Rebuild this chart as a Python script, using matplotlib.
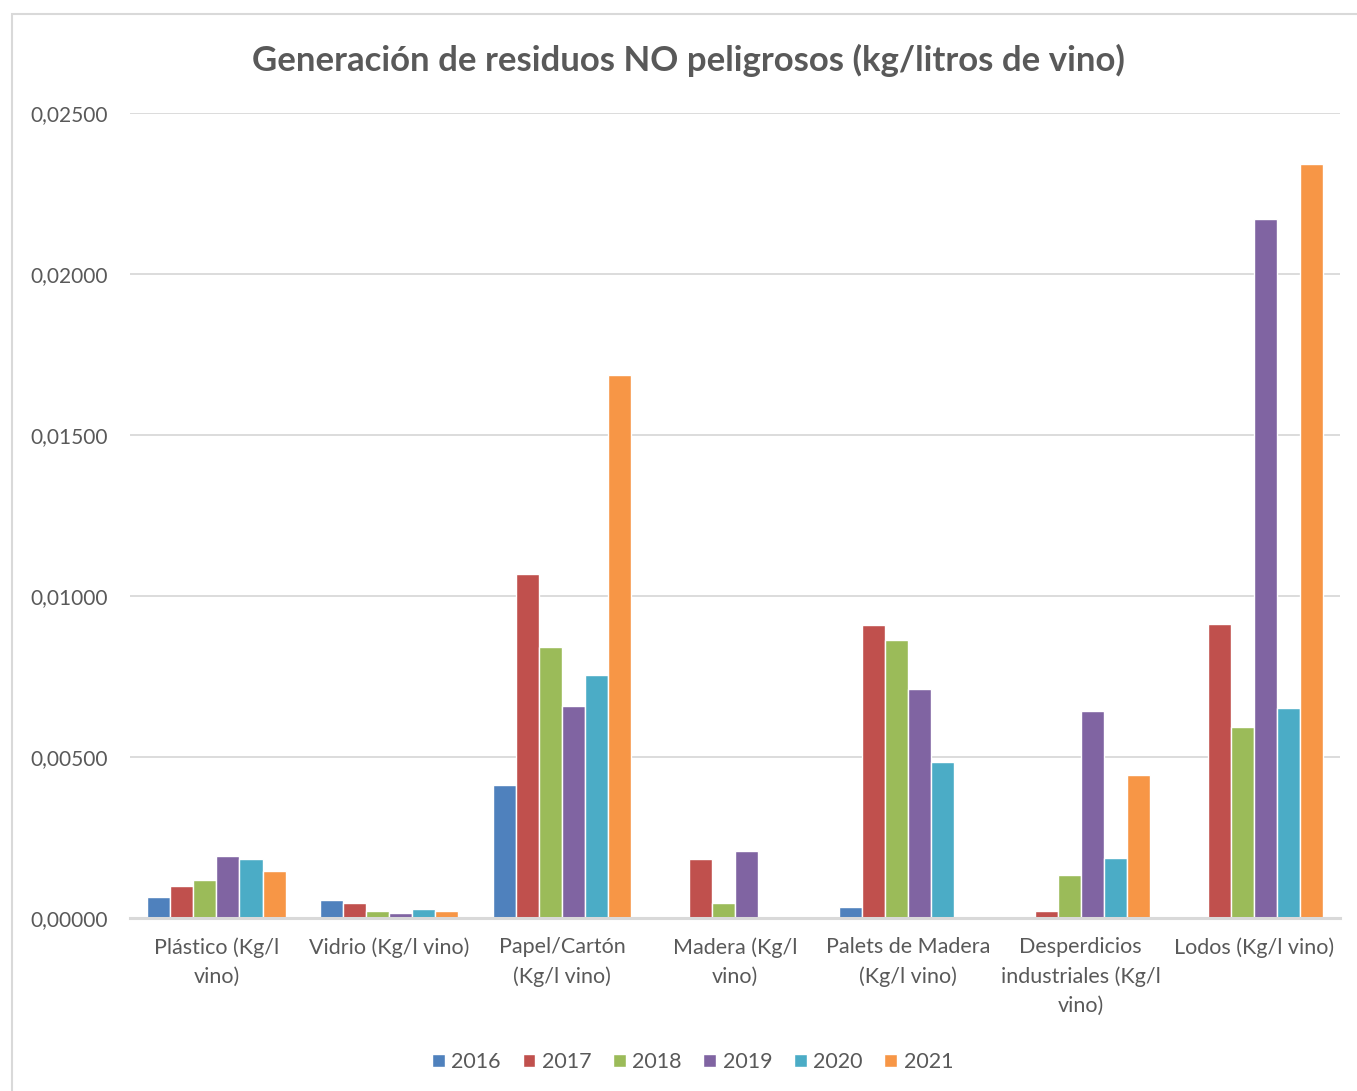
import numpy as np
import matplotlib
matplotlib.use("Agg")
import matplotlib.pyplot as plt
from matplotlib.patches import Rectangle
from matplotlib.ticker import FuncFormatter

categories = ["Plástico (Kg/l\nvino)", "Vidrio (Kg/l vino)", "Papel/Cartón\n(Kg/l vino)",
              "Madera (Kg/l\nvino)", "Palets de Madera\n(Kg/l vino)",
              "Desperdicios\nindustriales (Kg/l\nvino)", "Lodos (Kg/l vino)"]
years = ["2016", "2017", "2018", "2019", "2020", "2021"]

v2016 = [0.00065, 0.00056, 0.00413, 0.0, 0.00034, 0.0, 0.0]
v2017 = [0.00100, 0.00047, 0.01068, 0.00183, 0.00910, 0.00022, 0.00913]
v2018 = [0.00118, 0.00022, 0.00842, 0.00047, 0.00863, 0.00134, 0.00593]
v2019 = [0.00193, 0.00016, 0.00658, 0.00208, 0.00711, 0.00643, 0.02171]
v2020 = [0.00183, 0.00028, 0.00755, 0.0, 0.00484, 0.00186, 0.00652]
v2021 = [0.00146, 0.00022, 0.01686, 0.0, 0.0, 0.00444, 0.02342]

series = [v2016, v2017, v2018, v2019, v2020, v2021]
colors = ['#4F81BD', '#C0504D', '#9BBB59', '#8064A2', '#4BACC6', '#F79646']

plt.rcParams['font.family'] = ['Lato', 'DejaVu Sans']
TEXT = '#595959'

fig = plt.figure(figsize=(13.57, 10.91), dpi=100)
ax = fig.add_axes([0.0958, 0.1586, 0.8917, 0.7378])

# chart border
fig.patches.append(Rectangle((12 / 1357, -0.01), 1.02, 1 - 14 / 1091 + 0.01,
                             transform=fig.transFigure, fill=False,
                             edgecolor='#D9D9D9', linewidth=1.5))

x = np.arange(len(categories))
slot = 0.1333
for i, (vals, c) in enumerate(zip(series, colors)):
    offs = (i - 2.5) * slot
    ax.bar(x + offs, vals, width=slot, color=c, edgecolor='white',
           linewidth=1.0, label=years[i], zorder=3)

ax.set_xlim(-0.5, len(categories) - 0.5)
ax.set_ylim(0, 0.025)
ax.set_yticks(np.arange(0, 0.0251, 0.005))
ax.yaxis.set_major_formatter(FuncFormatter(lambda v, p: f"{v:.5f}".replace('.', ',')))
ax.grid(axis='y', color='#D9D9D9', linewidth=1.3, zorder=0)
ax.set_axisbelow(True)

for s in ['top', 'right', 'left']:
    ax.spines[s].set_visible(False)
ax.spines['bottom'].set_color('#D9D9D9')
ax.spines['bottom'].set_linewidth(2.2)
ax.spines['bottom'].set_zorder(4)

ax.set_xticks(x)
ax.set_xticklabels(categories, fontsize=15.5, color=TEXT, linespacing=1.55, va='top')
ax.tick_params(axis='x', length=0, pad=14)
ax.tick_params(axis='y', length=0, pad=16, labelsize=15, labelcolor=TEXT)

fig.text(0.507, 0.945, "Generación de residuos NO peligrosos (kg/litros de vino)",
         ha='center', va='center', fontsize=25, fontweight='bold', color=TEXT)

ax.legend(loc='center', bbox_to_anchor=(0.465, -0.179), ncol=6, frameon=False,
          fontsize=15.5, labelcolor=TEXT, handlelength=0.6, handleheight=0.6,
          handletextpad=0.3, columnspacing=1.0)

fig.savefig('out.png', dpi=100)
